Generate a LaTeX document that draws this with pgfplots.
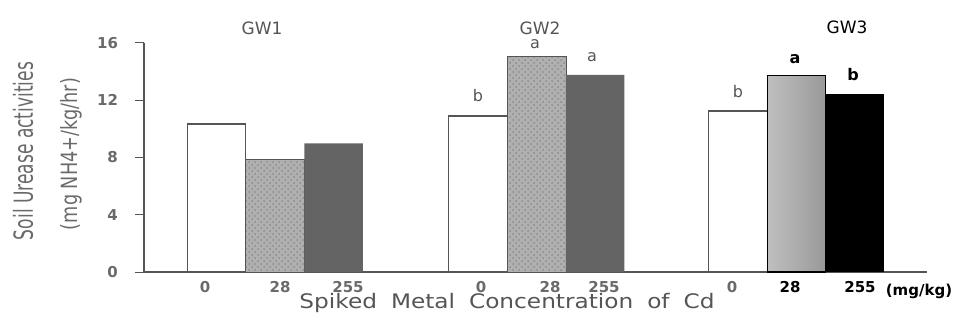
\documentclass[border=0pt]{standalone}
\usepackage{pgfplots}
\pgfplotsset{compat=1.18}
\usepackage{fontspec}
\setmainfont{DejaVu Sans}
\usepackage{graphicx}
\usetikzlibrary{patterns}
\definecolor{axgray}{HTML}{555555}
\definecolor{lblgray}{HTML}{6A6A6A}
\definecolor{darkbar}{HTML}{646464}
\definecolor{stip}{HTML}{B0B0B0}
\begin{document}
\begin{tikzpicture}
\useasboundingbox (0,0) rectangle (478pt,160.5pt);
\begin{axis}[
 at={(72pt,24.5pt)}, anchor=south west,
 width=391.5pt, height=114.5pt, scale only axis,
 xmin=144, xmax=927, ymin=0, ymax=16,
 axis x line*=bottom, axis y line*=left,
 axis line style={axgray, line width=0.6pt, -},
 ytick={0,4,8,12,16},
 tick align=outside, major tick length=4.5pt,
 ytick style={axgray, line width=0.5pt},
 xtick={205,280,348,481,550,604,732,790,860},
 xticklabels={0,28,255,0,28,255,0,{\color{black}28},{\color{black}255}},
 xtick style={draw=none},
 tick label style={font=\bfseries\fontsize{7.5}{8.5}\selectfont, text=lblgray},
 yticklabel style={xshift=-5pt},
 xticklabel style={yshift=3.2pt},
 /pgf/number format/assume math mode=true,
 clip=false,
]
\addplot[ybar, bar width=58.5, draw=axgray, line width=0.7pt, fill=white] coordinates {(216.5,10.34) (478,10.90) (738,11.25)};
\addplot[ybar, bar width=58.5, draw=axgray, line width=0.5pt, fill=stip, postaction={pattern=crosshatch dots, pattern color=black!45}] coordinates {(275,7.88) (537,15.09)};
\addplot[ybar, bar width=58.5, draw=black, line width=0.6pt, left color=black!25, middle color=black!55, right color=black!40, postaction={pattern=crosshatch dots, pattern color=black!75}] coordinates {(796.5,13.72)};
\addplot[ybar, bar width=58.5, draw=none, fill=darkbar] coordinates {(333.5,8.99) (595,13.77)};
\addplot[ybar, bar width=58.5, draw=none, fill=black] coordinates {(854.5,12.44)};
\node[font=\fontsize{8.5}{10}\selectfont, text=axgray] at (axis cs:262,17.05) {GW1};
\node[font=\fontsize{8.5}{10}\selectfont, text=axgray] at (axis cs:540,17.05) {GW2};
\node[font=\fontsize{8.5}{10}\selectfont, text=black] at (axis cs:847,17.12) {GW3};
\node[anchor=base, font=\fontsize{8}{9}\selectfont, text=axgray] at (axis cs:478,11.88) {b};
\node[anchor=base, font=\fontsize{8}{9}\selectfont, text=axgray] at (axis cs:535,15.65) {a};
\node[anchor=base, font=\fontsize{8}{9}\selectfont, text=axgray] at (axis cs:592,14.68) {a};
\node[anchor=base, font=\fontsize{8}{9}\selectfont, text=axgray] at (axis cs:738,12.16) {b};
\node[anchor=base, font=\bfseries\fontsize{8}{9}\selectfont, text=black] at (axis cs:795,14.60) {a};
\node[anchor=base, font=\bfseries\fontsize{8}{9}\selectfont, text=black] at (axis cs:853,13.37) {b};
\node[anchor=base, font=\bfseries\fontsize{7.5}{8.5}\selectfont, text=black] at (axis cs:919,-1.62) {(mg/kg)};
\node[anchor=base, inner sep=0pt, text=axgray] at (axis cs:507,-2.55) {\resizebox{207.5pt}{7.6pt}{Spiked\hspace{0.6em}Metal\hspace{0.6em}Concentration\hspace{0.6em}of\hspace{0.6em}Cd}};
\end{axis}
\node[rotate=90, text=lblgray] at (11.5pt,85pt) {\resizebox{89pt}{10pt}{Soil Urease activities}};
\node[rotate=90, text=lblgray] at (35.5pt,83.5pt) {\resizebox{76pt}{8.5pt}{(mg NH4+/kg/hr)}};
\end{tikzpicture}
\end{document}
